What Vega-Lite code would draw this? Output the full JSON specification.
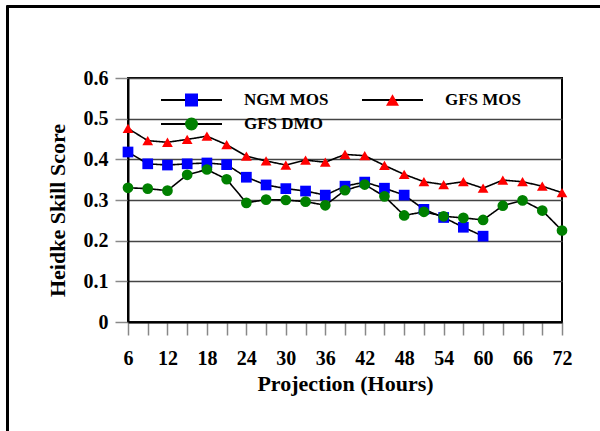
{
  "$schema": "https://vega.github.io/schema/vega-lite/v6.json",
  "width": 434,
  "height": 244,
  "autosize": {"type": "none"},
  "padding": {"left": 128, "top": 78, "right": 38, "bottom": 109},
  "background": "white",
  "data": {
    "values": [
      {"h": 6, "series": "NGM MOS", "hss": 0.418},
      {"h": 9, "series": "NGM MOS", "hss": 0.389},
      {"h": 12, "series": "NGM MOS", "hss": 0.386},
      {"h": 15, "series": "NGM MOS", "hss": 0.389},
      {"h": 18, "series": "NGM MOS", "hss": 0.391},
      {"h": 21, "series": "NGM MOS", "hss": 0.387},
      {"h": 24, "series": "NGM MOS", "hss": 0.356},
      {"h": 27, "series": "NGM MOS", "hss": 0.337},
      {"h": 30, "series": "NGM MOS", "hss": 0.328},
      {"h": 33, "series": "NGM MOS", "hss": 0.322},
      {"h": 36, "series": "NGM MOS", "hss": 0.312},
      {"h": 39, "series": "NGM MOS", "hss": 0.334},
      {"h": 42, "series": "NGM MOS", "hss": 0.344},
      {"h": 45, "series": "NGM MOS", "hss": 0.329},
      {"h": 48, "series": "NGM MOS", "hss": 0.312},
      {"h": 51, "series": "NGM MOS", "hss": 0.277},
      {"h": 54, "series": "NGM MOS", "hss": 0.257},
      {"h": 57, "series": "NGM MOS", "hss": 0.233},
      {"h": 60, "series": "NGM MOS", "hss": 0.211},
      {"h": 6, "series": "GFS MOS", "hss": 0.476},
      {"h": 9, "series": "GFS MOS", "hss": 0.446},
      {"h": 12, "series": "GFS MOS", "hss": 0.442},
      {"h": 15, "series": "GFS MOS", "hss": 0.449},
      {"h": 18, "series": "GFS MOS", "hss": 0.457},
      {"h": 21, "series": "GFS MOS", "hss": 0.436},
      {"h": 24, "series": "GFS MOS", "hss": 0.408},
      {"h": 27, "series": "GFS MOS", "hss": 0.396},
      {"h": 30, "series": "GFS MOS", "hss": 0.386},
      {"h": 33, "series": "GFS MOS", "hss": 0.398},
      {"h": 36, "series": "GFS MOS", "hss": 0.393},
      {"h": 39, "series": "GFS MOS", "hss": 0.412},
      {"h": 42, "series": "GFS MOS", "hss": 0.409},
      {"h": 45, "series": "GFS MOS", "hss": 0.385},
      {"h": 48, "series": "GFS MOS", "hss": 0.363},
      {"h": 51, "series": "GFS MOS", "hss": 0.345},
      {"h": 54, "series": "GFS MOS", "hss": 0.338},
      {"h": 57, "series": "GFS MOS", "hss": 0.345},
      {"h": 60, "series": "GFS MOS", "hss": 0.329},
      {"h": 63, "series": "GFS MOS", "hss": 0.349},
      {"h": 66, "series": "GFS MOS", "hss": 0.345},
      {"h": 69, "series": "GFS MOS", "hss": 0.334},
      {"h": 72, "series": "GFS MOS", "hss": 0.318},
      {"h": 6, "series": "GFS DMO", "hss": 0.330},
      {"h": 9, "series": "GFS DMO", "hss": 0.328},
      {"h": 12, "series": "GFS DMO", "hss": 0.323},
      {"h": 15, "series": "GFS DMO", "hss": 0.362},
      {"h": 18, "series": "GFS DMO", "hss": 0.375},
      {"h": 21, "series": "GFS DMO", "hss": 0.351},
      {"h": 24, "series": "GFS DMO", "hss": 0.293},
      {"h": 27, "series": "GFS DMO", "hss": 0.301},
      {"h": 30, "series": "GFS DMO", "hss": 0.300},
      {"h": 33, "series": "GFS DMO", "hss": 0.296},
      {"h": 36, "series": "GFS DMO", "hss": 0.287},
      {"h": 39, "series": "GFS DMO", "hss": 0.324},
      {"h": 42, "series": "GFS DMO", "hss": 0.338},
      {"h": 45, "series": "GFS DMO", "hss": 0.309},
      {"h": 48, "series": "GFS DMO", "hss": 0.262},
      {"h": 51, "series": "GFS DMO", "hss": 0.271},
      {"h": 54, "series": "GFS DMO", "hss": 0.260},
      {"h": 57, "series": "GFS DMO", "hss": 0.256},
      {"h": 60, "series": "GFS DMO", "hss": 0.251},
      {"h": 63, "series": "GFS DMO", "hss": 0.286},
      {"h": 66, "series": "GFS DMO", "hss": 0.299},
      {"h": 69, "series": "GFS DMO", "hss": 0.274},
      {"h": 72, "series": "GFS DMO", "hss": 0.225}
    ]
  },
  "layer": [
    {
      "encoding": {
        "x": {
          "field": "h",
          "type": "quantitative",
          "scale": {"domain": [6, 72], "nice": false, "zero": false},
          "axis": {
            "values": [6, 9, 12, 15, 18, 21, 24, 27, 30, 33, 36, 39, 42, 45, 48, 51, 54, 57, 60, 63, 66, 69, 72],
            "labelExpr": "datum.value % 6 == 0 ? datum.label : ''",
            "labelOverlap": false,
            "labelFlush": false,
            "labelBaseline": "alphabetic",
            "labelPadding": 29,
            "title": "Projection (Hours)",
            "titleBaseline": "alphabetic",
            "titleY": 68,
            "grid": false
          }
        },
        "y": {
          "field": "hss",
          "type": "quantitative",
          "scale": {"domain": [0, 0.6], "nice": false},
          "axis": {
            "values": [0, 0.1, 0.2, 0.3, 0.4, 0.5, 0.6],
            "format": ".1~f",
            "labelPadding": 7,
            "title": "Heidke Skill Score",
            "titleBaseline": "alphabetic",
            "titleX": -64,
            "titleY": 132,
            "grid": true,
            "gridColor": "#444444",
            "gridWidth": 1.5
          }
        }
      },
      "layer": [
        {
          "mark": {"type": "line", "color": "black", "strokeWidth": 1.6},
          "encoding": {
            "strokeDash": {
              "field": "series",
              "type": "nominal",
              "scale": {"domain": ["GFS DMO", "NGM MOS", "GFS MOS"], "range": [[1, 0], [1, 0], [1, 0]]},
              "legend": {
                "orient": "none",
                "legendX": 32,
                "legendY": 10,
                "columns": 2,
                "title": null,
                "padding": 0,
                "clipHeight": 24,
                "rowPadding": 0,
                "columnPadding": 117,
                "symbolType": "stroke",
                "symbolSize": 3721,
                "symbolStrokeWidth": 2,
                "symbolStrokeColor": "black",
                "labelOffset": 21,
                "labelExpr": "''",
                "labelFontSize": 17,
                "labelFontWeight": "bold"
              }
            }
          }
        },
        {
          "mark": {"type": "point", "filled": true, "opacity": 1, "size": 115},
          "encoding": {
            "color": {
              "field": "series",
              "type": "nominal",
              "scale": {"domain": ["NGM MOS", "GFS DMO", "GFS MOS"], "range": ["#0000ff", "#008000", "#ff0000"]},
              "legend": {
                "orient": "none",
                "legendX": 32,
                "legendY": 10,
                "columns": 2,
                "title": null,
                "padding": 0,
                "clipHeight": 24,
                "rowPadding": 0,
                "columnPadding": 32,
                "symbolSize": 169,
                "symbolStrokeWidth": 0,
                "symbolOffset": 23,
                "labelOffset": 44,
                "labelFontSize": 17,
                "labelFontWeight": "bold",
                "labelColor": "black"
              }
            },
            "shape": {
              "field": "series",
              "type": "nominal",
              "scale": {"domain": ["NGM MOS", "GFS DMO", "GFS MOS"], "range": ["square", "circle", "triangle-up"]}
            }
          }
        }
      ]
    },
    {
      "mark": {"type": "point", "opacity": 0},
      "encoding": {
        "x": {
          "field": "h",
          "type": "quantitative",
          "scale": {"domain": [0, 1], "range": [-122, 480]},
          "axis": {"orient": "top", "offset": 72, "domainColor": "black", "domainWidth": 3, "ticks": false, "labels": false, "grid": false, "title": null}
        },
        "y": {
          "field": "hss",
          "type": "quantitative",
          "scale": {"domain": [0, 1], "range": [360, -73]},
          "axis": {"orient": "left", "offset": 121, "domainColor": "black", "domainWidth": 3, "ticks": false, "labels": false, "grid": false, "title": null}
        }
      }
    }
  ],
  "resolve": {"scale": {"x": "independent", "y": "independent"}},
  "config": {
    "font": "Liberation Serif",
    "view": {"stroke": "black", "strokeWidth": 2},
    "axis": {
      "domainColor": "black",
      "domainWidth": 2,
      "tickColor": "#888888",
      "tickWidth": 1.5,
      "tickSize": 13,
      "labelFontSize": 20,
      "labelFontWeight": "bold",
      "labelColor": "black",
      "titleFontSize": 22,
      "titleFontWeight": "bold",
      "titleColor": "black"
    },
    "legend": {"labelFont": "Liberation Serif"}
  }
}
